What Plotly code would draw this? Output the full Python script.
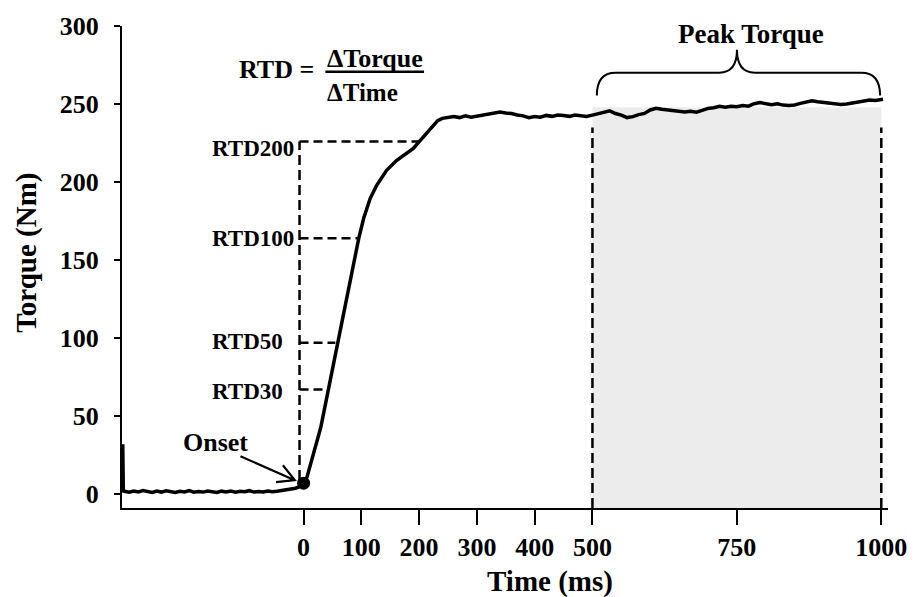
import plotly.graph_objects as go

# ---------------- data ----------------
time_ms = [-313, -312, -310, -302, -294, -286, -278, -270, -262, -254, -246, -238,
           -230, -222, -214, -206, -198, -190, -182, -174, -166, -158, -150, -142,
           -134, -126, -118, -110, -102, -94, -86, -78, -70, -62, -54, -46, -38,
           -30, -22, -14, -8, -3,
           0, 6, 12.6, 20, 29.7, 42.9, 59.1, 73.6, 85.4, 95.4, 103.9, 115.2, 126.6,
           143.7, 160.8, 177.9, 190, 200.6, 209, 217.8, 225, 232.2, 240,
           250, 260, 270, 280, 290, 300, 310, 320, 330, 340, 350, 360, 370, 380,
           390, 400, 410, 420, 430, 440, 450, 460, 470, 480, 490, 500, 510, 520,
           530, 540, 550, 560, 570, 580, 590, 600, 610, 620, 630, 640, 650, 660,
           670, 680, 690, 700, 710, 720, 730, 740, 750, 760, 770, 780, 790, 800,
           810, 820, 830, 840, 850, 860, 870, 880, 890, 900, 910, 920, 930, 940,
           950, 960, 970, 980, 990, 1000, 1003]
torque_nm = [32, 2.0, 1.8, 1.2, 2.0, 1.4, 2.3, 1.5, 1.1, 1.9, 1.3, 2.1,
             1.6, 1.0, 1.8, 1.4, 2.2, 1.2, 1.7, 1.3, 2.0, 1.5, 1.1, 1.9,
             1.4, 2.0, 1.2, 1.8, 1.5, 2.2, 1.3, 1.7, 1.4, 2.0, 1.6, 1.9, 2.3,
             2.6, 3.1, 3.8, 4.6, 5.8,
             7.0, 11, 19.7, 30, 42.7, 66.9, 96.8, 123.6, 144.8, 163.7, 176.6, 189.4, 197.9,
             207.5, 213.8, 218.0, 221.5, 226.1, 229.5, 232.9, 236.5, 239.3, 240.8,
             241.2, 242.0, 241.3, 242.4, 241.6, 242.3, 242.6, 243.4, 243.9, 244.8, 244.2,
             243.9, 243.0, 242.4, 241.2, 242.0, 241.6, 242.7, 242.1, 243.0, 242.6, 242.1,
             243.0, 242.3, 242.0, 242.9, 243.8, 245.2, 245.6, 243.9, 242.9, 241.3, 241.9,
             243.2, 244.0, 246.2, 247.3, 246.6, 246.1, 246.0, 245.2, 244.9, 245.3, 244.8,
             245.9, 247.2, 247.6, 248.5, 247.9, 248.6, 248.2, 249.0, 248.6, 250.2, 250.9,
             250.1, 249.6, 250.2, 249.3, 249.0, 249.4, 250.4, 251.3, 252.1, 251.5, 251.0,
             250.7, 250.2, 249.7, 250.0, 250.6, 251.0, 251.8, 252.6, 252.3, 253.1, 253.0]

onset_time = [0]
onset_torque = [7]

x_tick_vals = [0, 100, 200, 300, 400, 500, 750, 1000]
y_tick_vals = [0, 50, 100, 150, 200, 250, 300]

rtd_labels = ["RTD30", "RTD50", "RTD100", "RTD200"]
rtd_torque = [67, 97, 164, 226]
rtd_end_time = [40, 55, 93, 199]
rtd_start_time = -7

peak_window = [500, 1000]
peak_shade_top = 248

# ---------------- layout helpers ----------------
W, H = 919, 597
L, R, T, B = 122, 21, 23, 89
PW, PH = W - L - R, H - T - B


def px(x):
    return (x - L) / PW


def py(y):
    return (H - B - y) / PH


FONT = "Liberation Serif"
BLACK = "#000000"

fig = go.Figure()

fig.add_trace(go.Scatter(
    x=time_ms, y=torque_nm, mode="lines",
    line=dict(color=BLACK, width=3.5), showlegend=False, hoverinfo="skip"))

fig.add_trace(go.Scatter(
    x=onset_time, y=onset_torque, mode="markers",
    marker=dict(color=BLACK, size=13), showlegend=False, hoverinfo="skip"))

shapes = []
# shaded peak window
shapes.append(dict(type="rect", xref="x", yref="y", x0=peak_window[0], x1=peak_window[1],
                   y0=-8.9, y1=peak_shade_top, fillcolor="#ececec",
                   line=dict(width=0), layer="below"))
# vertical dashed lines bounding the peak window
for xv in peak_window:
    shapes.append(dict(type="line", xref="x", yref="y", x0=xv, x1=xv, y0=-8.9, y1=235,
                       line=dict(color=BLACK, width=2.5, dash="10px,5px")))
# vertical dashed line at onset
shapes.append(dict(type="line", xref="x", yref="y", x0=rtd_start_time, x1=rtd_start_time,
                   y0=9, y1=rtd_torque[-1],
                   line=dict(color=BLACK, width=2.5, dash="10px,5px")))
# RTD horizontal dashed lines
for tq, te in zip(rtd_torque, rtd_end_time):
    shapes.append(dict(type="line", xref="x", yref="y", x0=rtd_start_time, x1=te, y0=tq, y1=tq,
                       line=dict(color=BLACK, width=2.5, dash="9px,5px")))

# fraction bar
shapes.append(dict(type="line", xref="paper", yref="paper", x0=px(328), x1=px(428),
                   y0=py(69), y1=py(69), line=dict(color=BLACK, width=2.5)))


def path(points_cmds):
    out = []
    for cmd, pts in points_cmds:
        coords = " ".join(f"{px(a):.5f},{py(b):.5f}" for a, b in pts)
        out.append(f"{cmd} {coords}")
    return " ".join(out)


brace = path([
    ("M", [(603, 93)]),
    ("Q", [(603, 70), (622, 70)]),
    ("L", [(727, 70)]),
    ("Q", [(745, 70), (745, 47)]),
    ("Q", [(745, 70), (763, 70)]),
    ("L", [(871, 70)]),
    ("Q", [(890, 70), (890, 93)]),
])
shapes.append(dict(type="path", xref="paper", yref="paper", path=brace,
                   line=dict(color=BLACK, width=2)))

arrow = path([
    ("M", [(242, 456)]), ("L", [(297, 480)]),
    ("M", [(285, 465)]), ("L", [(297, 480)]), ("L", [(278, 482)]),
])
shapes.append(dict(type="path", xref="paper", yref="paper", path=arrow,
                   line=dict(color=BLACK, width=2.2)))

annotations = []


def txt(text, x, y, size, xanchor="center", angle=0):
    annotations.append(dict(text=text, xref="paper", yref="paper", x=px(x), y=py(y),
                            xanchor=xanchor, yanchor="middle", showarrow=False,
                            textangle=angle,
                            font=dict(family=FONT, size=size, color=BLACK, weight="bold")))


txt("Torque (Nm)", 25, 251, 29, angle=-90)
txt("Time (ms)", 556, 582, 29)
txt("Onset", 217, 442, 26)
txt("Peak Torque", 759, 31, 27)
txt("RTD =", 279, 67, 26)
txt("ΔTorque", 378, 56, 26)
txt("ΔTime", 366, 90, 25)
rtd_label_pos = [(287, 391), (287, 340), (298, 237), (298, 146)]
for lab, (lx, ly) in zip(rtd_labels, rtd_label_pos):
    txt(lab, lx, ly, 23, xanchor="right")

fig.update_layout(
    width=W, height=H,
    margin=dict(l=L, r=R, t=T, b=B),
    paper_bgcolor="white", plot_bgcolor="white",
    font=dict(family=FONT, size=26, color=BLACK, weight="bold"),
    shapes=shapes, annotations=annotations,
    xaxis=dict(range=[-314.3, 1011.6], tickvals=x_tick_vals,
               ticktext=[str(v) for v in x_tick_vals],
               showline=True, linecolor=BLACK, linewidth=2,
               ticks="outside", ticklen=15, tickwidth=2, tickcolor=BLACK,
               showgrid=False, zeroline=False,
               tickfont=dict(family=FONT, size=26, color=BLACK, weight="bold")),
    yaxis=dict(range=[-8.9, 300], tickvals=y_tick_vals,
               showline=True, linecolor=BLACK, linewidth=2,
               ticks="outside", ticklen=6, tickwidth=2, tickcolor=BLACK,
               showgrid=False, zeroline=False, ticklabelstandoff=10,
               tickfont=dict(family=FONT, size=26, color=BLACK, weight="bold")),
)

fig.write_html("out.html")
